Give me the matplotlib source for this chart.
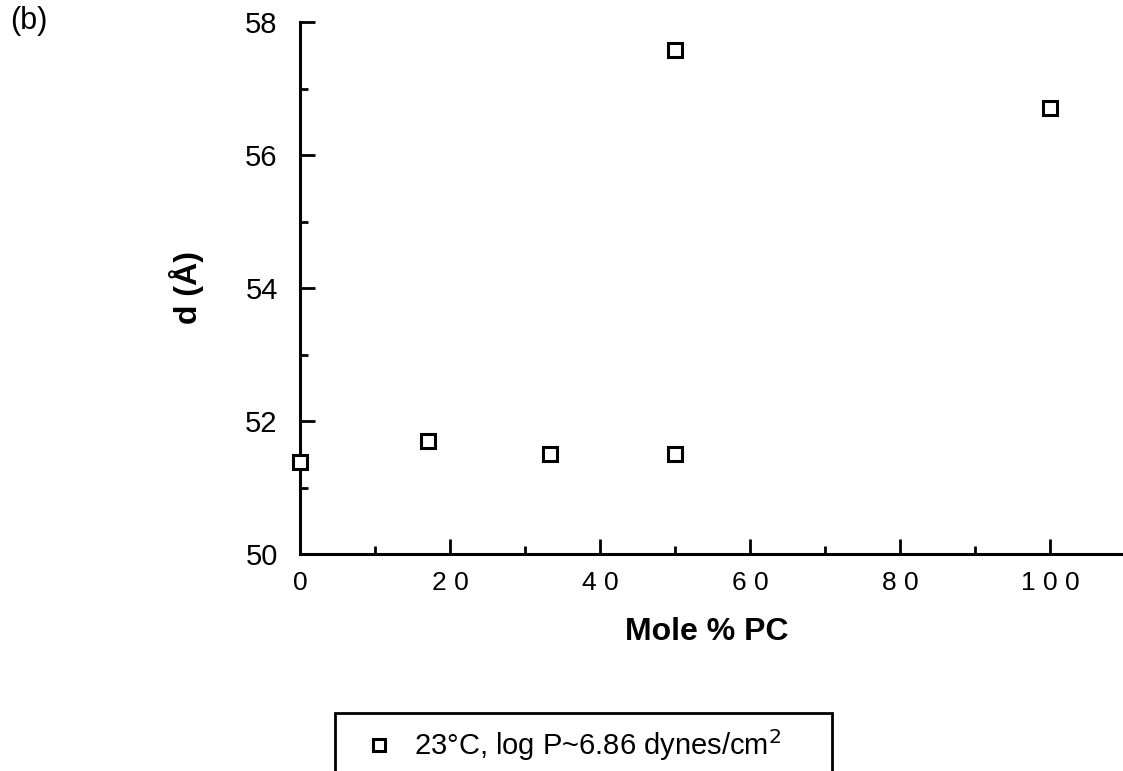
import matplotlib
matplotlib.use("Agg")
import matplotlib.pyplot as plt
from matplotlib.ticker import MultipleLocator

plt.rcParams['font.family'] = ['Liberation Sans', 'DejaVu Sans']

mole_pc = [0, 17, 33.3, 50, 50, 100]
d_spacing = [51.38, 51.7, 51.5, 51.5, 57.58, 56.7]
series_label = "23°C, log P~6.86 dynes/cm$^2$"
x_ticks = [0, 20, 40, 60, 80, 100]
y_ticks = [50, 52, 54, 56, 58]

fig = plt.figure(figsize=(11.23, 7.71), dpi=100)
ax = fig.add_axes([300/1123, 1 - 554/771, 825/1123, (554 - 22)/771])

ax.plot(mole_pc, d_spacing, linestyle='none', marker='s', markersize=10,
        markerfacecolor='white', markeredgecolor='black', markeredgewidth=2.2,
        label=series_label, clip_on=False, zorder=5)

ax.set_xlim(0, 110)
ax.set_ylim(50, 58)
ax.spines['top'].set_visible(False)
ax.spines['right'].set_visible(False)
for s in ('left', 'bottom'):
    ax.spines[s].set_linewidth(2.2)

ax.xaxis.set_major_locator(plt.FixedLocator(x_ticks))
ax.xaxis.set_minor_locator(MultipleLocator(10))
ax.yaxis.set_major_locator(plt.FixedLocator(y_ticks))
ax.yaxis.set_minor_locator(MultipleLocator(1))
ax.set_xticklabels([" ".join(str(t)) for t in x_ticks])
ax.tick_params(which='major', direction='in', length=11, width=2, labelsize=19, pad=12)
ax.tick_params(which='minor', direction='in', length=6, width=2)
ax.tick_params(axis='y', labelsize=21, pad=16)

ax.set_xlabel("Mole % PC", fontsize=23, fontweight='bold', va='center')
ax.xaxis.set_label_coords((707 - 300)/825, (554 - 632)/532)
ax.set_ylabel("d (Å)", fontsize=23, fontweight='bold', labelpad=30)

fig.text(10/1123, 1 - 21/771, "(b)", fontsize=22, va='center', ha='left')

leg_top = 1 - 713/771
leg = fig.legend(loc='upper left', bbox_to_anchor=(335/1123, leg_top - 0.2, 497/1123, 0.2),
                 mode='expand', fontsize=21, frameon=True, fancybox=False, framealpha=1,
                 borderpad=0.5, handletextpad=0.2, borderaxespad=0, handlelength=2.0,
                 markerscale=0.8)
leg.get_frame().set_edgecolor('black')
leg.get_frame().set_linewidth(2)

fig.savefig("out.png", dpi=100)
